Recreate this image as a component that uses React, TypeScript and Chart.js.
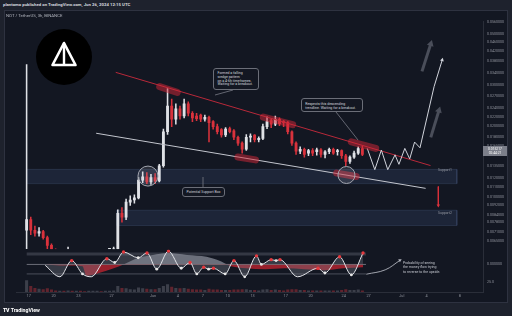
import React, { useEffect, useRef } from "react";
import { Chart, registerables } from "chart.js";
Chart.register(...registerables);

const FONT = "Roboto, 'DejaVu Sans', sans-serif";

// x axis unit: days since 1 May 2024
const candleStartDay = 15.75;
const candleStepDays = 0.5;

const opens = [0.0072,0.0080,0.0072,0.0070,0.0071,0.0067,0.0062,0.0059,0.0057,0.0058,0.0057,0.0058,0.0056,0.0057,0.0056,0.0055,0.0056,0.0057,0.0058,0.0057,0.0058,0.0058,0.0060,0.0085,0.0082,0.0095,0.0097,0.0099,0.0118,0.0122,0.0116,0.0121,0.0117,0.0136,0.0190,0.0245,0.0215,0.0238,0.0222,0.0250,0.0228,0.0222,0.0224,0.0215,0.0219,0.0210,0.0200,0.0194,0.0184,0.0196,0.0192,0.0180,0.0170,0.0160,0.0180,0.0184,0.0176,0.0178,0.0200,0.0212,0.0205,0.0215,0.0210,0.0208,0.0190,0.0170,0.0157,0.0160,0.0154,0.0158,0.0156,0.0159,0.0152,0.0156,0.0160,0.0156,0.0158,0.0150,0.0142,0.0148,0.0154,0.0161];
const highs = [0.0368,0.0082,0.0075,0.0074,0.0072,0.0068,0.0063,0.0060,0.0059,0.0059,0.0061,0.0059,0.0058,0.0058,0.0057,0.0057,0.0058,0.0059,0.0059,0.0059,0.0059,0.0061,0.0088,0.0090,0.0098,0.0101,0.0102,0.0121,0.0128,0.0127,0.0125,0.0126,0.0138,0.0195,0.0291,0.0262,0.0250,0.0245,0.0262,0.0255,0.0232,0.0228,0.0226,0.0224,0.0222,0.0212,0.0205,0.0196,0.0198,0.0199,0.0194,0.0182,0.0172,0.0185,0.0186,0.0185,0.0181,0.0205,0.0220,0.0215,0.0222,0.0218,0.0212,0.0210,0.0192,0.0172,0.0164,0.0162,0.0160,0.0161,0.0162,0.0161,0.0158,0.0162,0.0162,0.0160,0.0159,0.0152,0.0150,0.0157,0.0164,0.0165];
const lows = [0.0060,0.0069,0.0068,0.0068,0.0066,0.0060,0.0057,0.0056,0.0055,0.0056,0.0056,0.0055,0.0054,0.0055,0.0054,0.0053,0.0055,0.0056,0.0056,0.0056,0.0057,0.0057,0.0059,0.0078,0.0080,0.0092,0.0094,0.0098,0.0115,0.0114,0.0113,0.0114,0.0116,0.0134,0.0185,0.0200,0.0205,0.0215,0.0218,0.0222,0.0210,0.0212,0.0210,0.0211,0.0172,0.0195,0.0186,0.0180,0.0181,0.0188,0.0176,0.0166,0.0154,0.0158,0.0172,0.0172,0.0172,0.0176,0.0196,0.0198,0.0202,0.0202,0.0200,0.0186,0.0166,0.0152,0.0153,0.0148,0.0150,0.0150,0.0151,0.0148,0.0147,0.0153,0.0152,0.0151,0.0146,0.0136,0.0139,0.0146,0.0152,0.0150];
const closes = [0.0080,0.0072,0.0070,0.0071,0.0067,0.0062,0.0059,0.0057,0.0058,0.0057,0.0058,0.0056,0.0057,0.0056,0.0055,0.0056,0.0057,0.0058,0.0057,0.0058,0.0058,0.0060,0.0085,0.0082,0.0095,0.0097,0.0099,0.0118,0.0122,0.0116,0.0121,0.0117,0.0136,0.0190,0.0245,0.0215,0.0238,0.0222,0.0250,0.0228,0.0218,0.0216,0.0215,0.0219,0.0208,0.0200,0.0190,0.0184,0.0195,0.0190,0.0180,0.0170,0.0160,0.0180,0.0182,0.0176,0.0178,0.0200,0.0210,0.0205,0.0215,0.0206,0.0208,0.0190,0.0170,0.0157,0.0160,0.0152,0.0158,0.0154,0.0159,0.0152,0.0156,0.0160,0.0154,0.0158,0.0150,0.0142,0.0148,0.0154,0.0161,0.015217];
const volumes = [28,14,9,7,6,8,5,3,2,2,3,2,2,2,1,2,2,2,1,2,2,3,14,9,8,6,5,10,8,7,6,6,9,14,18,12,9,8,9,7,6,5,5,4,7,5,5,4,4,4,5,5,6,6,4,4,3,5,6,4,5,4,3,5,6,6,4,4,3,3,3,3,3,3,3,3,4,6,4,4,5,3];

const xTickDays = [16,19,22,26,31,34,37,40,43,47,50,54,57,61,64,68];
const xTickLabels = ["17","20","23","27","Jun","4","7","10","13","17","20","24","27","Jul","4","8"];

const priceTicks = [0.056,0.05,0.046,0.042,0.038,0.034,0.03,0.027,0.024,0.022,0.02,0.018,0.0165,0.0135,0.012,0.011,0.01,0.0092,0.0084,0.0078,0.0071,0.0065];
const priceTickLabels = ["0.0560000","0.0500000","0.0460000","0.0420000","0.0380000","0.0340000","0.0300000","0.0270000","0.0240000","0.0220000","0.0200000","0.0180000","0.0165000","0.0135000","0.0120000","0.0110000","0.0100000","0.0092000","0.0084000","0.0078000","0.0071000","0.0065000"];
const oscTicks = [0];
const oscTickLabels = ["0.000000"];
const volTicks = [25];
const volTickLabels = ["25.0"];

const resistanceDays = [26.5, 64.47];
const resistancePrices = [0.03413, 0.01362];
const supportLineDays = [24.14, 63.88];
const supportLinePrices = [0.01873, 0.01088];

const projectionDays = [56.84,57.75,58.54,59.31,60.19,60.66,61.37,61.96,62.55,63.2,64.9,65.88];
const projectionPrices = [0.01613,0.01308,0.01587,0.01308,0.01514,0.01379,0.01613,0.01455,0.01717,0.01623,0.02965,0.03855];

const zoneStartDays = [15.76, 26.61];
const zoneEndDays = [67.65, 67.65];
const zoneTopPrices = [0.01312, 0.00877];
const zoneBottomPrices = [0.0114, 0.007547];

const highlightStartDays = [31.8, 44.3, 41.24, 54.92, 53.15];
const highlightEndDays = [33.92, 47.84, 43.36, 57.86, 55.5];
const highlightStartPrices = [0.02965, 0.02197, 0.01482, 0.01722, 0.01264];
const highlightEndPrices = [0.02803, 0.02038, 0.01441, 0.01613, 0.01223];

const circleDays = [30.39, 54.33];
const circlePrices = [0.01228, 0.01241];

const bigArrowStartDays = [63.44, 64.5];
const bigArrowTipDays = [64.5, 65.49];
const bigArrowStartPrices = [0.03445, 0.01799];
const bigArrowTipPrices = [0.0452, 0.02346];
const dropArrowDays = [65.41, 65.41];
const dropArrowPrices = [0.01108, 0.00919];

const waveDays = [18.0,19.77,21.19,22.49,23.55,25.43,26.38,27.44,29.21,30.27,31.45,32.86,34.4,35.46,36.28,37.11,37.7,38.29,39.7,40.76,42.06,43.48,44.07,45.25,45.84,46.31,48.43,50.9,51.73,53.5,54.92,56.33];
const waveValues = [-0.1,-1.3,0.4,-1.0,-1.3,0.6,0.2,1.3,0.7,1.2,-0.5,1.4,-0.4,0.2,-1.0,-0.3,-0.5,-0.4,-1.0,0.4,-1.3,0.9,0.0,0.5,0.4,0.5,-1.3,-0.4,-0.9,0.8,-1.1,1.2];
const waveMarks = ["-","-","r","w","-","r","w","r","w","r","w","r","w","r","w","r","w","r","w","r","w","r","w","r","w","r","-","r","w","r","w","r"];
const flowDays = [18.0,19.77,21.19,22.49,22.96,24.49,26.26,27.44,29.21,30.98,32.75,35.1,37.46,39.23,40.41,42.18,44.54,46.9,49.25,51.61,53.97,56.33];
const flowValues = [0,-0.1,-0.1,-0.2,-1.2,-0.9,-0.4,0.0,0.7,1.0,1.2,1.0,0.8,0.3,-0.2,-0.4,-0.5,-0.4,-0.5,-0.6,-0.4,-0.3];
const oscLevelDays = [15.76, 56.68];
const oscLevels = [1.1, 0, -1.0];
const reversalDays = [56.72, 59.0, 60.78];
const reversalValues = [-1.03, -0.57, 0.43];

const UP = "#dfe1e6";
const DOWN = "#d9323c";
const TICK = "#8f929b";
const BORDER = "#2a2e39";

const paneClip = {
  id: "paneClip",
  beforeDatasetDraw(chart: any, args: any) {
    const ys = args.meta.yScale;
    const a = chart.chartArea;
    const ctx = chart.ctx;
    ctx.save();
    ctx.beginPath();
    ctx.rect(a.left, ys.top, a.right - a.left, ys.bottom - ys.top);
    ctx.clip();
  },
  afterDatasetDraw(chart: any) {
    chart.ctx.restore();
  },
};

function pts(days: number[], vals: number[]) {
  return days.map((d, i) => ({ x: d, y: vals[i] }));
}

function line(days: number[], vals: number[], color: string, width: number, axis: string, order: number, extra: any = {}) {
  return {
    type: "line",
    data: pts(days, vals),
    borderColor: color,
    borderWidth: width,
    pointRadius: 0,
    fill: false,
    tension: 0,
    yAxisID: axis,
    order,
    ...extra,
  };
}

function arrowTip(n: number, color: string, r: number, rot: number) {
  return {
    pointStyle: "triangle",
    pointRadius: Array.from({ length: n }, (_, i) => (i === n - 1 ? r : 0)),
    pointRotation: rot,
    pointBackgroundColor: color,
    pointBorderColor: color,
    pointBorderWidth: 0,
  };
}

function yAxis(ticks: number[], labels: string[], weight: number, extra: any) {
  return {
    axis: "y",
    position: "right",
    stack: "panes",
    stackWeight: weight,
    bounds: "data",
    grid: { display: false, drawTicks: false },
    border: { display: true, color: BORDER },
    ticks: {
      autoSkip: false,
      padding: 4,
      color: TICK,
      font: { size: 3.6, family: FONT },
      callback: (_v: any, i: number) => labels[i] ?? "",
    },
    afterBuildTicks(s: any) {
      s.ticks = ticks.map((v) => ({ value: v }));
    },
    afterFit(s: any) {
      s.width = 24;
      s.paddingTop = 0;
      s.paddingBottom = 0;
    },
    ...extra,
  };
}

export default function App() {
  const ref = useRef<HTMLCanvasElement>(null);

  useEffect(() => {
    const candleDays = opens.map((_, i) => candleStartDay + i * candleStepDays);
    const candleColors = opens.map((o, i) => (closes[i] >= o ? UP : DOWN));
    const volColors = opens.map((o, i) => (closes[i] >= o ? "rgba(110,113,124,0.45)" : "rgba(150,45,55,0.6)"));

    const datasets: any[] = [];

    zoneStartDays.forEach((d0, k) => {
      const d1 = zoneEndDays[k];
      const top = zoneTopPrices[k];
      const bot = zoneBottomPrices[k];
      datasets.push({
        type: "line",
        data: [
          { x: d0, y: top }, { x: d1, y: top }, { x: d1, y: bot }, { x: d0, y: bot }, { x: d0, y: top },
        ],
        borderColor: "rgba(80,98,140,0.35)",
        borderWidth: 0.8,
        backgroundColor: "rgba(70,90,135,0.22)",
        fill: "shape",
        pointRadius: 0,
        tension: 0,
        yAxisID: "y",
        order: 40,
      });
    });

    datasets.push({
      type: "bar",
      data: candleDays.map((t, i) => ({ x: t, y: [lows[i], highs[i]] })),
      backgroundColor: candleColors,
      barThickness: 0.9,
      grouped: false,
      yAxisID: "y",
      order: 12,
    });
    datasets.push({
      type: "bar",
      data: candleDays.map((t, i) => ({ x: t, y: [opens[i], closes[i]] })),
      backgroundColor: candleColors,
      barThickness: 2.2,
      minBarLength: 0.8,
      grouped: false,
      yAxisID: "y",
      order: 11,
    });
    datasets.push({
      type: "bar",
      data: candleDays.map((t, i) => ({ x: t, y: volumes[i] })),
      backgroundColor: volColors,
      barThickness: 2.4,
      grouped: false,
      yAxisID: "vol",
      order: 12,
    });

    datasets.push(line(supportLineDays, supportLinePrices, "#c3c6ce", 1, "y", 6));
    datasets.push(line(resistanceDays, resistancePrices, "#b8293a", 1, "y", 6));

    highlightStartDays.forEach((d0, k) => {
      datasets.push(
        line([d0, highlightEndDays[k]], [highlightStartPrices[k], highlightEndPrices[k]], "rgba(214,40,55,0.5)", 7, "y", 4, {
          borderCapStyle: "round",
        })
      );
    });

    datasets.push({
      type: "line",
      data: pts(circleDays, circlePrices),
      showLine: false,
      pointRadius: [10, 8.5],
      pointBackgroundColor: "rgba(200,203,212,0.13)",
      pointBorderColor: "#a3a6af",
      pointBorderWidth: 1,
      yAxisID: "y",
      order: 3,
    });

    datasets.push(
      line(projectionDays, projectionPrices, "#d1d4dc", 1, "y", 5, arrowTip(projectionDays.length, "#d1d4dc", 2.2, 16))
    );

    bigArrowStartDays.forEach((d0, k) => {
      datasets.push(
        line([d0, bigArrowTipDays[k]], [bigArrowStartPrices[k], bigArrowTipPrices[k]], "#4a4e5a", 3, "y", 7,
          arrowTip(2, "#4a4e5a", 4, 17))
      );
    });
    datasets.push(line(dropArrowDays, dropArrowPrices, "#d9323c", 1, "y", 7, arrowTip(2, "#d9323c", 2, 180)));

    // oscillator pane
    datasets.push(line(oscLevelDays, [oscLevels[0], oscLevels[0]], "#343844", 3, "osc", 20));
    datasets.push(line(oscLevelDays, [oscLevels[1], oscLevels[1]], "#6b6e78", 1, "osc", 19));
    datasets.push(line(oscLevelDays, [oscLevels[2], oscLevels[2]], "#4b4f5a", 1, "osc", 19));
    datasets.push({
      type: "line",
      data: pts(flowDays, flowValues),
      borderWidth: 0,
      borderColor: "rgba(0,0,0,0)",
      backgroundColor: "rgba(130,134,146,0.8)",
      fill: { target: "origin", above: "rgba(130,134,146,0.8)", below: "rgba(178,34,46,0.85)" },
      cubicInterpolationMode: "monotone",
      pointRadius: 0,
      yAxisID: "osc",
      order: 16,
    });
    datasets.push({
      type: "line",
      data: pts(waveDays, waveValues),
      borderColor: "#e3e5ea",
      borderWidth: 1,
      backgroundColor: "rgba(120,124,136,0.35)",
      fill: { target: "origin", above: "rgba(120,124,136,0.35)", below: "rgba(120,124,136,0.35)" },
      cubicInterpolationMode: "monotone",
      pointRadius: waveMarks.map((m) => (m === "r" ? 1.7 : m === "w" ? 1.4 : 0)),
      pointBackgroundColor: waveMarks.map((m) => (m === "r" ? "#e5393e" : "#e6e6e6")),
      pointBorderWidth: 0,
      yAxisID: "osc",
      order: 14,
    });
    datasets.push(
      line(reversalDays, reversalValues, "#b2b5be", 0.9, "osc", 13, { tension: 0.4, ...arrowTip(3, "#b2b5be", 2, 61) })
    );

    const chart = new Chart(ref.current as HTMLCanvasElement, {
      type: "bar",
      data: { datasets },
      options: {
        responsive: false,
        animation: false,
        devicePixelRatio: 1,
        events: [],
        layout: { padding: { top: 1, left: 0, right: 0, bottom: 0 } },
        plugins: { legend: { display: false }, tooltip: { enabled: false } },
        scales: {
          x: {
            type: "linear",
            min: 14.47,
            max: 70.8,
            bounds: "data",
            offset: false,
            grid: { display: false, drawTicks: false },
            border: { display: true, color: BORDER },
            ticks: {
              autoSkip: false,
              maxRotation: 0,
              padding: 1.5,
              color: TICK,
              font: { size: 3.8, family: FONT },
              callback: (_v: any, i: number) => xTickLabels[i] ?? "",
            },
            afterBuildTicks(s: any) {
              s.ticks = xTickDays.map((v) => ({ value: v }));
            },
            afterFit(s: any) {
              s.height = 7;
              s.paddingLeft = 0;
              s.paddingRight = 0;
            },
          },
          y: yAxis(priceTicks, priceTickLabels, 240, { type: "logarithmic", min: 0.005973, max: 0.05661 }),
          osc: yAxis(oscTicks, oscTickLabels, 32, { type: "linear", min: -1.6, max: 1.6 }),
          vol: yAxis(volTicks, volTickLabels, 13, { type: "linear", min: 0, max: 30 }),
        },
      } as any,
      plugins: [paneClip],
    } as any);
    return () => chart.destroy();
  }, []);

  const txt: React.CSSProperties = { color: "#d1d4dc", fontFamily: FONT, whiteSpace: "nowrap" };
  const box: React.CSSProperties = {
    ...txt,
    position: "absolute",
    background: "#131722",
    border: "0.7px solid #6b6e78",
    borderRadius: 3,
    fontSize: 3.5,
    boxSizing: "border-box",
  };

  return (
    <div style={{ position: "fixed", left: 0, top: 0, width: 512, height: 316, background: "#1e222d", overflow: "hidden" }}>
      <div style={{ ...txt, position: "absolute", left: 3, top: 0, height: 10, lineHeight: "10px", fontSize: 4.3, fontWeight: 700 }}>
        plantomo published on TradingView.com, Jun 26, 2024 12:15 UTC
      </div>
      <div style={{ position: "absolute", left: 4, top: 10, width: 504, height: 293, background: "#131722", border: "1px solid #2e3240", boxSizing: "border-box" }} />
      <canvas ref={ref} width={502} height={293} style={{ position: "absolute", left: 5, top: 10, width: 502, height: 293 }} />

      <div style={{ ...txt, position: "absolute", left: 6, top: 13, fontSize: 4.3, color: "#b2b5be" }}>NOT / TetherUS, 3h, BINANCE</div>

      <svg width={512} height={316} style={{ position: "absolute", left: 0, top: 0, pointerEvents: "none" }}>
        <circle cx={64} cy={57} r={28} fill="#000" />
        <path d="M64 43 L75.5 65 L52.5 65 Z" fill="none" stroke="#fff" strokeWidth={2.6} strokeLinejoin="round" />
        <line x1={64} y1={43} x2={64} y2={65} stroke="#fff" strokeWidth={2.4} />
        <line x1={233} y1={90} x2={215} y2={95} stroke="#787b86" strokeWidth={0.8} />
        <line x1={336} y1={112} x2={358} y2={140} stroke="#787b86" strokeWidth={0.8} />
        <line x1={203} y1={177} x2={203} y2={187} stroke="#787b86" strokeWidth={0.8} />
      </svg>

      <div style={{ ...box, left: 213, top: 68, width: 46, height: 22, padding: "3px 3.5px", lineHeight: "3.8px" }}>
        Formed a falling<br />wedge pattern<br />on a 4-6h timeframes.<br />Waiting for a breakout.
      </div>
      <div style={{ ...box, left: 301, top: 98, width: 62, height: 14, padding: "3px 3.3px", lineHeight: "4px" }}>
        Respects this descending<br />trendline. Waiting for a breakout.
      </div>
      <div style={{ ...box, left: 182, top: 187, width: 43, height: 10, lineHeight: "8.6px", textAlign: "center" }}>
        Potential Support Box
      </div>
      <div style={{ ...txt, position: "absolute", left: 403, top: 261, fontSize: 3.5, lineHeight: "4.4px", color: "#c3c6ce" }}>
        Probability of seeing<br />the money flow trying<br />to reverse to the upside.
      </div>
      <div style={{ ...txt, position: "absolute", left: 438, top: 168, fontSize: 3.4, color: "#9598a1" }}>Support1</div>
      <div style={{ ...txt, position: "absolute", left: 438, top: 211, fontSize: 3.4, color: "#9598a1" }}>Support2</div>

      <div style={{ ...txt, position: "absolute", left: 483, top: 146, width: 24, height: 10, background: "#7c7f8a", color: "#fff", fontSize: 3.3, lineHeight: "4.4px", textAlign: "center", paddingTop: 0.6, boxSizing: "border-box" }}>
        0.015217<br />02:44:21
      </div>

      <div style={{ ...txt, position: "absolute", left: 3, top: 304, height: 12, lineHeight: "12px", fontSize: 5.2, fontWeight: 700, color: "#ffffff" }}>
        <span style={{ fontWeight: 900, marginRight: 1.5, letterSpacing: -0.3 }}>TV</span>TradingView
      </div>
    </div>
  );
}
